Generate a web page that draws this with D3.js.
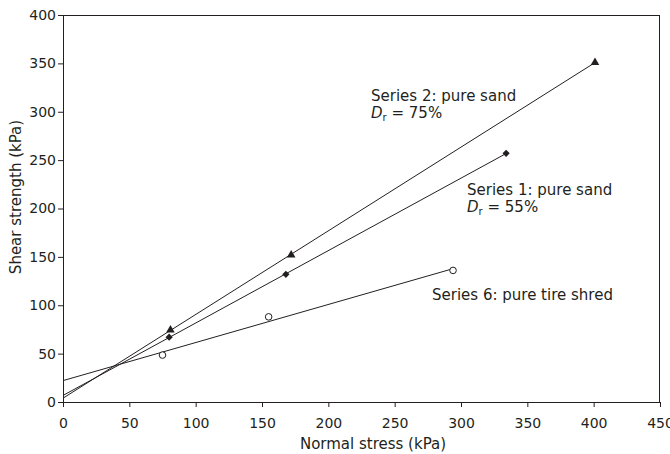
<!DOCTYPE html>
<html>
<head>
<meta charset="utf-8">
<script src="https://cdn.jsdelivr.net/npm/d3@7"></script>
<style>
  body { margin: 0; background: #fff; }
  text { font-family: "DejaVu Sans", sans-serif; fill: #231f20; }
</style>
</head>
<body>
<div id="chart"></div>
<script>
// values
var series1Normal = [80, 168, 334];
var series1Shear = [67, 132, 257];
var series2Normal = [81, 172, 401];
var series2Shear = [74.5, 152, 351];
var series6Normal = [75, 155, 294];
var series6Shear = [48.5, 88, 136];

var xTicks = [0, 50, 100, 150, 200, 250, 300, 350, 400, 450];
var yTicks = [0, 50, 100, 150, 200, 250, 300, 350, 400];

var svgWidth = 670;
var svgHeight = 454;

var margin = {
  top: 15,
  right: 10,
  bottom: 52,
  left: 63
};

var width = svgWidth - margin.left - margin.right;
var height = svgHeight - margin.top - margin.bottom;

var ink = "#231f20";

var svg = d3.select("#chart")
            .append("svg")
            .attr("width", svgWidth)
            .attr("height", svgHeight);

var chartGroup = svg.append("g")
  .attr("transform", `translate(${margin.left}, ${margin.top})`);

var xLinearScale = d3.scaleLinear()
                    .domain([0, 450])
                    .range([0, width]);

var yLinearScale = d3.scaleLinear()
                    .domain([0, 400])
                    .range([height, 0]);

// least squares line through each series, drawn from zero to last point
function fitLine(xs, ys) {
  var mx = d3.mean(xs);
  var my = d3.mean(ys);
  var sxy = d3.sum(xs, (x, i) => (x - mx) * (ys[i] - my));
  var sxx = d3.sum(xs, x => (x - mx) * (x - mx));
  var slope = sxy / sxx;
  var icpt = my - slope * mx;
  var xEnd = d3.max(xs);
  return [[0, icpt], [xEnd, icpt + slope * xEnd]];
}

var series = [
  {x: series1Normal, y: series1Shear, mark: "diamond"},
  {x: series2Normal, y: series2Shear, mark: "triangle"},
  {x: series6Normal, y: series6Shear, mark: "circle"}
];

//Create the axes

var bottomAxis = d3.axisBottom(xLinearScale)
  .tickValues(xTicks)
  .tickSize(5)
  .tickSizeOuter(0)
  .tickPadding(11);
var leftAxis = d3.axisLeft(yLinearScale)
  .tickValues(yTicks)
  .tickSize(5)
  .tickSizeOuter(0)
  .tickPadding(2);

var xAxisG = chartGroup.append("g")
  .attr("transform", `translate(0, ${height})`)
  .call(bottomAxis);

var yAxisG = chartGroup.append("g")
  .call(leftAxis);

[xAxisG, yAxisG].forEach(function(g) {
  g.selectAll("path, line").attr("stroke", ink);
  g.selectAll("text")
    .attr("fill", ink)
    .style("font-size", "14px")
    .style("font-family", "DejaVu Sans, sans-serif");
});

// top and right frame
chartGroup.append("line")
  .attr("x1", 0).attr("x2", width)
  .attr("y1", 0.5).attr("y2", 0.5)
  .attr("stroke", ink);
chartGroup.append("line")
  .attr("x1", width - 0.5).attr("x2", width - 0.5)
  .attr("y1", 0).attr("y2", height + 0.5)
  .attr("stroke", ink);

// fit lines
var lineGen = d3.line()
  .x(d => xLinearScale(d[0]))
  .y(d => yLinearScale(d[1]));

series.forEach(function(s) {
  chartGroup.append("path")
    .attr("d", lineGen(fitLine(s.x, s.y)))
    .attr("fill", "none")
    .attr("stroke", ink)
    .attr("stroke-width", 1);
});

// points
series.forEach(function(s) {
  var pts = s.x.map((x, i) => [x, s.y[i]]);
  if (s.mark === "circle") {
    chartGroup.selectAll(null)
      .data(pts)
      .enter()
      .append("circle")
      .attr("cx", d => xLinearScale(d[0]))
      .attr("cy", d => yLinearScale(d[1]))
      .attr("r", 3.3)
      .attr("fill", "#fff")
      .attr("stroke", ink)
      .attr("stroke-width", 1);
  } else if (s.mark === "triangle") {
    chartGroup.selectAll(null)
      .data(pts)
      .enter()
      .append("path")
      .attr("d", d3.symbol().type(d3.symbolTriangle).size(32))
      .attr("transform", d => `translate(${xLinearScale(d[0])}, ${yLinearScale(d[1])})`)
      .attr("fill", ink);
  } else {
    // square turned 45 degrees, wider than d3's own diamond
    chartGroup.selectAll(null)
      .data(pts)
      .enter()
      .append("path")
      .attr("d", d3.symbol().type(d3.symbolSquare).size(26))
      .attr("transform", d => `translate(${xLinearScale(d[0])}, ${yLinearScale(d[1])}) rotate(45)`)
      .attr("fill", ink);
  }
});

// series labels
function addLabel(x, y, title, dr) {
  svg.append("text")
    .attr("x", x).attr("y", y)
    .style("font-size", "15px")
    .text(title);
  if (dr) {
    var t2 = svg.append("text")
      .attr("x", x).attr("y", y + 17)
      .style("font-size", "15px");
    t2.append("tspan").style("font-style", "italic").text("D");
    t2.append("tspan").attr("dy", 3).style("font-size", "10px").text("r");
    t2.append("tspan").attr("dy", -3).text(" = " + dr);
  }
}

addLabel(371, 101, "Series 2: pure sand", "75%");
addLabel(467, 195, "Series 1: pure sand", "55%");
addLabel(432, 300, "Series 6: pure tire shred", null);

// axis titles
svg.append("text")
  .attr("x", 373)
  .attr("y", 449)
  .attr("text-anchor", "middle")
  .style("font-size", "15px")
  .text("Normal stress (kPa)");

svg.append("text")
  .attr("transform", "translate(21, 197) rotate(-90)")
  .attr("text-anchor", "middle")
  .style("font-size", "15px")
  .text("Shear strength (kPa)");
</script>
</body>
</html>
